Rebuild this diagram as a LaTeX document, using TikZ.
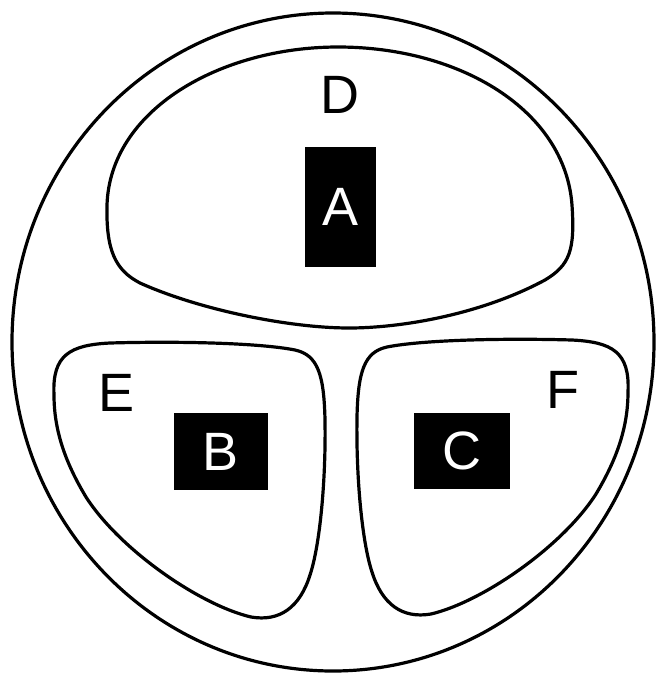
\documentclass[tikz,border=0pt]{standalone}
\usepackage{fontspec}
\setmainfont{Liberation Sans}
\begin{document}
\begin{tikzpicture}[x=1pt,y=-1pt,
  outline/.style={draw=black,line width=3.2pt,line join=round},
  blackbox/.style={fill=black,text=white,inner sep=0pt,font=\fontsize{54}{54}\selectfont},
  lbl/.style={text=black,inner sep=0pt,font=\fontsize{54}{54}\selectfont}]
\useasboundingbox (0,0) rectangle (656,673);
\fill[white] (0,0) rectangle (656,673);
% outer circle
\draw[outline] (333,342) ellipse [x radius=321,y radius=329];
% top lobe D
\draw[outline] (107,205) .. controls (110,110) and (220,47) .. (338,47)
  .. controls (460,47) and (565,110) .. (572,205)
  .. controls (575,250) and (570,265) .. (545,280)
  .. controls (480,315) and (400,328) .. (349,328)
  .. controls (290,328) and (200,310) .. (140,283)
  .. controls (115,270) and (106,250) .. (107,205) -- cycle;
% left lobe E
\def\sidelobe{(54,395) .. controls (52,355) and (70,345) .. (110,343)
  .. controls (180,341) and (260,343) .. (295,350)
  .. controls (318,355) and (324,375) .. (325,420)
  .. controls (326,480) and (320,545) .. (310,575)
  .. controls (300,607) and (280,622) .. (251,617)
  .. controls (200,605) and (120,550) .. (86,497)
  .. controls (65,462) and (54,430) .. (54,395) -- cycle}
\draw[outline] \sidelobe;
% right lobe F (mirror)
\begin{scope}[xshift=682pt,xscale=-1,yshift=3pt]
\draw[outline] \sidelobe;
\end{scope}
% boxes
\node[blackbox,minimum width=71pt,minimum height=120pt] (A) at (340.5,207) {A};
\node[blackbox,minimum width=94pt,minimum height=77pt] (B) at (221,451.5) {B};
\node[blackbox,minimum width=96pt,minimum height=76pt] (C) at (462,451) {C};
% labels
\node[lbl] (D) at (340,95) {D};
\node[lbl] (E) at (117,393) {E};
\node[lbl] (F) at (563,390) {F};
\end{tikzpicture}
\end{document}
